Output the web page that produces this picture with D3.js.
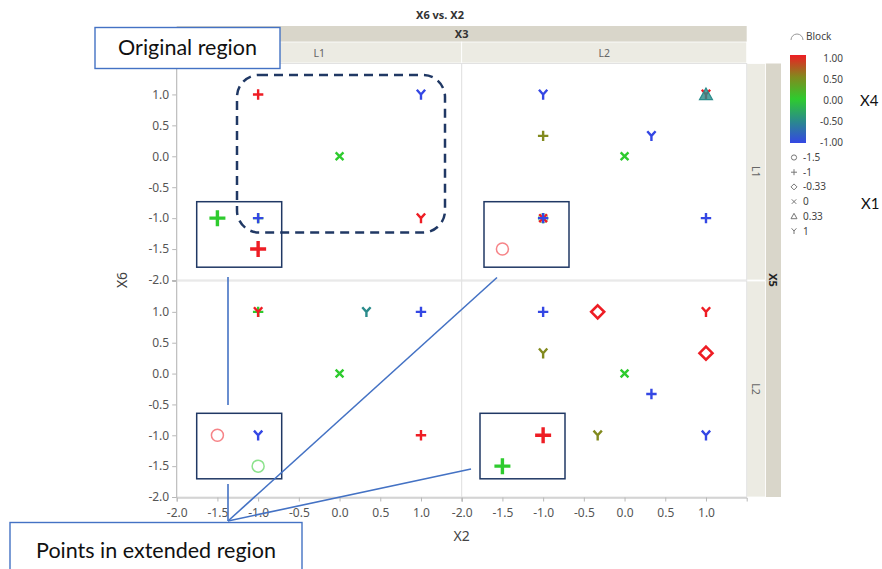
<!DOCTYPE html>
<html><head><meta charset="utf-8">
<script src="https://cdn.jsdelivr.net/npm/d3@7"></script>
<style>
  body { margin: 0; background: #fff; }
  svg { display: block; }
</style>
</head><body>
<svg id="chart" width="882" height="569"></svg>
<script>
// ---- design runs (one entry per run) ----
const x3 = ["L1","L1","L1","L1","L1","L1","L1","L1",
            "L2","L2","L2","L2","L2","L2","L2","L2","L2","L2","L2",
            "L1","L1","L1","L1","L1","L1","L1","L1","L1",
            "L2","L2","L2","L2","L2","L2","L2","L2","L2","L2","L2"];
const x5 = ["L1","L1","L1","L1","L1","L1","L1","L1",
            "L1","L1","L1","L1","L1","L1","L1","L1","L1","L1","L1",
            "L2","L2","L2","L2","L2","L2","L2","L2","L2",
            "L2","L2","L2","L2","L2","L2","L2","L2","L2","L2","L2"];
const x2 = [-1, 1, 0, 1, -1, -1, -1.5, -1,
            -1, 1, 1, -1, 0.33, 0, 1, -1, -1, -1, -1.5,
            -1, -1, 0.33, 1, 0, 1, -1.5, -1, -1,
            -1, -0.33, 1, -1, 1, 0, 0.33, -1, -0.33, 1, -1.5];
const x6 = [1, 1, 0, -1, -1, -1, -1, -1.5,
            1, 1, 1, 0.33, 0.33, 0, -1, -1, -1, -1, -1.5,
            1, 1, 1, 1, 0, -1, -1, -1, -1.5,
            1, 1, 1, 0.33, 0.33, 0, -0.33, -1, -1, -1, -1.5];
const x4 = [1, -1, 0, 1, 0, -1, 0, 1,
            -1, 1, -0.5, 0.5, -1, 0, -1, 0, 1, -1, 1,
            0, 1, -0.5, -1, 0, 1, 1, -1, 0,
            -1, 1, 1, 0.5, 1, 0, -1, 1, 0.5, -1, 0];
const x1 = [-1, 1, 0, 1, -1, -1, -1, -1,
            1, 1, 0.33, -1, 1, 0, -1, -1.5, 0, -1, -1.5,
            -1, 1, 1, -1, 0, -1, -1.5, 1, -1.5,
            -1, -0.33, 1, 1, -0.33, 0, -1, -1, 1, 1, -1];
const extended = [0,0,0,0,0,0,1,1,
                  0,0,0,0,0,0,0,0,0,0,1,
                  0,0,0,0,0,0,1,0,1,
                  0,0,0,0,0,0,0,1,0,0,1];

// ---- facets, ticks, legend ----
const levels = ["L1", "L2"];
const tickValues = [-2, -1.5, -1, -0.5, 0, 0.5, 1];
const axisDomain = [-2, 1.5];
const colourStops = [-1, -0.5, 0, 0.5, 1];
const colourRange = ["#3447e4", "#2a8b8b", "#2ecb2e", "#828a1e", "#ee1d24"];
const shapeLevels = [-1.5, -1, -0.33, 0, 0.33, 1];
const shapeNames = ["circle", "plus", "diamond", "x", "triangle", "y"];
const shapeLabels = ["-1.5", "-1", "-0.33", "0", "0.33", "1"];
const legendTicks = [1, 0.5, 0, -0.5, -1];

const runs = x2.map((d, i) => ({
  x2: d, x6: x6[i], x3: x3[i], x5: x5[i], x4: x4[i], x1: x1[i], ext: extended[i]
}));

const svg = d3.select("#chart");
const font = "'Noto Sans', 'Open Sans', sans-serif";
const noteFont = "Lato, 'Open Sans', sans-serif";

// panel geometry
const colRange = { L1: [176.7, 461.7], L2: [461.7, 746.7] };
const rowRange = { L1: [280, 63.5], L2: [497, 281] };
const xScale = {}, yScale = {};
levels.forEach(l => {
  xScale[l] = d3.scaleLinear().domain(axisDomain).range(colRange[l]);
  yScale[l] = d3.scaleLinear().domain(axisDomain).range(rowRange[l]);
});
const colour = d3.scaleLinear().domain(colourStops).range(colourRange);
const shapeOf = d3.scaleOrdinal().domain(shapeLevels).range(shapeNames);

// ---- title and facet strips ----
svg.append("text").attr("x", 440).attr("y", 19).attr("text-anchor", "middle")
  .attr("font-family", font).attr("font-size", 11).attr("font-weight", "bold")
  .attr("fill", "#333").text("X6 vs. X2");

svg.append("rect").attr("x", 176.7).attr("y", 26).attr("width", 570).attr("height", 16)
  .attr("fill", "#d9d6ca");
svg.append("text").attr("x", 461.7).attr("y", 38).attr("text-anchor", "middle")
  .attr("font-family", font).attr("font-size", 11).attr("font-weight", "bold")
  .attr("fill", "#333").text("X3");
levels.forEach(l => {
  const [a, b] = colRange[l];
  svg.append("rect").attr("x", a).attr("y", 42).attr("width", b - a).attr("height", 21)
    .attr("fill", "#ecebe3").attr("stroke", "#fff").attr("stroke-width", 0.8);
  svg.append("text").attr("x", (a + b) / 2).attr("y", 57).attr("text-anchor", "middle")
    .attr("font-family", font).attr("font-size", 10.5).attr("fill", "#666").text(l);
});

svg.append("rect").attr("x", 765.5).attr("y", 63.5).attr("width", 15.5).attr("height", 433.5)
  .attr("fill", "#d9d6ca");
svg.append("text")
  .attr("transform", "translate(769,280) rotate(90)").attr("text-anchor", "middle")
  .attr("font-family", font).attr("font-size", 11).attr("font-weight", "bold")
  .attr("fill", "#222").text("X5");
levels.forEach(l => {
  const [b, a] = rowRange[l];
  svg.append("rect").attr("x", 746.7).attr("y", a).attr("width", 18.8).attr("height", b - a)
    .attr("fill", "#ecebe3").attr("stroke", "#fff").attr("stroke-width", 0.8);
  svg.append("text")
    .attr("transform", `translate(752,${(a + b) / 2}) rotate(90)`).attr("text-anchor", "middle")
    .attr("font-family", font).attr("font-size", 10.5).attr("fill", "#666").text(l);
});

// ---- panels ----
levels.forEach(c => levels.forEach(r => {
  const [x0, x1p] = colRange[c], [y1, y0] = rowRange[r];
  svg.append("rect").attr("x", x0).attr("y", y0).attr("width", x1p - x0).attr("height", y1 - y0)
    .attr("fill", "#fff").attr("stroke", "#e2e2e2").attr("stroke-width", 1);
}));

// axes
const fmt = d => d.toFixed(1);
function styleAxis(g) {
  g.select(".domain").attr("stroke", "#b8b8b8");
  g.selectAll(".tick line").attr("stroke", "#b8b8b8");
  g.selectAll("text").attr("font-family", font).attr("font-size", 12).attr("fill", "#555");
}
levels.forEach(c => {
  const g = svg.append("g").attr("transform", "translate(0,497.5)")
    .call(d3.axisBottom(xScale[c]).tickValues(tickValues).tickFormat(fmt).tickSizeOuter(0).tickSize(4));
  styleAxis(g);
  g.selectAll("text").attr("dy", "1.05em");
});
levels.forEach(r => {
  const g = svg.append("g").attr("transform", "translate(176.2,0)")
    .call(d3.axisLeft(yScale[r]).tickValues(tickValues).tickFormat(fmt).tickSizeOuter(0).tickSize(4));
  styleAxis(g);
});

svg.append("text").attr("x", 461.7).attr("y", 541).attr("text-anchor", "middle")
  .attr("font-family", font).attr("font-size", 14).attr("fill", "#444").text("X2");
svg.append("text").attr("transform", "translate(127,280) rotate(-90)").attr("text-anchor", "middle")
  .attr("font-family", font).attr("font-size", 14).attr("fill", "#444").text("X6");

// ---- markers ----
function markerPath(shape, s) {
  switch (shape) {
    case "plus": return `M${-s},0H${s}M0,${-s}V${s}`;
    case "x": { const k = s * 0.75; return `M${-k},${-k}L${k},${k}M${-k},${k}L${k},${-k}`; }
    case "diamond": return `M0,${-s}L${s},0L0,${s}L${-s},0Z`;
    case "triangle": return `M0,${-s}L${s},${s * 0.8}L${-s},${s * 0.8}Z`;
    case "y": return `M0,0L${-s * 0.8},${-s * 0.9}M0,0L${s * 0.8},${-s * 0.9}M0,0V${s}`;
    default: return d3.arc()({ innerRadius: 0, outerRadius: s, startAngle: 0, endAngle: 2 * Math.PI });
  }
}

const markers = svg.append("g");
runs.forEach(d => {
  const shape = shapeOf(d.x1);
  const cx = xScale[d.x3](d.x2), cy = yScale[d.x5](d.x6);
  const col = colour(d.x4);
  const g = markers.append("g").attr("transform", `translate(${cx},${cy})`);
  if (shape === "circle") {
    g.append("circle").attr("r", d.ext ? 6 : 4.5).attr("fill", "none")
      .attr("stroke", col).attr("stroke-width", 1.5).attr("stroke-opacity", 0.55);
  } else if (shape === "triangle") {
    g.append("path").attr("d", markerPath(shape, 6.5)).attr("fill", col).attr("fill-opacity", 0.8)
      .attr("stroke", col).attr("stroke-width", 1.2);
  } else if (shape === "diamond") {
    g.append("path").attr("d", markerPath(shape, 6.5)).attr("fill", "none")
      .attr("stroke", col).attr("stroke-width", 2.6);
  } else {
    const s = d.ext ? 8 : 5.2;
    g.append("path").attr("d", markerPath(shape, s)).attr("fill", "none")
      .attr("stroke", col).attr("stroke-width", d.ext ? 3.4 : 2.4);
  }
});

// ---- legend: X4 colour ----
const defs = svg.append("defs");
const grad = defs.append("linearGradient").attr("id", "x4grad")
  .attr("x1", 0).attr("y1", 1).attr("x2", 0).attr("y2", 0);
colourStops.forEach((v, i) => grad.append("stop")
  .attr("offset", (v + 1) / 2).attr("stop-color", colourRange[i]));
const legY = d3.scaleLinear().domain([-1, 1]).range([142, 58]);
svg.append("path").attr("d", "M791,40 A6,6 0 0 1 803,40").attr("fill", "none")
  .attr("stroke", "#999").attr("stroke-width", 1);
svg.append("text").attr("x", 806).attr("y", 40).attr("font-family", font).attr("font-size", 10)
  .attr("fill", "#444").text("Block");
svg.append("rect").attr("x", 790).attr("y", 55).attr("width", 16).attr("height", 88)
  .attr("fill", "url(#x4grad)");
legendTicks.forEach(v => {
  svg.append("text").attr("x", 843).attr("y", legY(v) + 3.5).attr("text-anchor", "end")
    .attr("font-family", font).attr("font-size", 10).attr("fill", "#444").text(v.toFixed(2));
});
svg.append("text").attr("x", 860).attr("y", 106).attr("font-family", noteFont)
  .attr("font-size", 15).attr("fill", "#111").text("X4");

// ---- legend: X1 shape ----
shapeLevels.forEach((v, i) => {
  const y = 157.5 + i * 14.7;
  const shape = shapeNames[i];
  svg.append("path").attr("transform", `translate(794,${y})`)
    .attr("d", markerPath(shape, shape === "circle" ? 2.6 : 3))
    .attr("fill", "none").attr("stroke", "#777").attr("stroke-width", 1);
  svg.append("text").attr("x", 803).attr("y", y + 3.5).attr("font-family", font)
    .attr("font-size", 10).attr("fill", "#444").text(shapeLabels[i]);
});
svg.append("text").attr("x", 861).attr("y", 209).attr("font-family", noteFont)
  .attr("font-size", 15).attr("fill", "#111").text("X1");

// ---- annotations ----
const navy = "#203864", callout = "#4472c4";
svg.append("rect").attr("x", 237).attr("y", 75).attr("width", 208).attr("height", 157.5)
  .attr("rx", 22).attr("fill", "none").attr("stroke", navy).attr("stroke-width", 2.5)
  .attr("stroke-dasharray", "9,6");

[[196.7, 201.7], [484, 201.7], [196.7, 413.3], [480, 413.3]].forEach(([x, y]) => {
  svg.append("rect").attr("x", x).attr("y", y).attr("width", 85).attr("height", 65.5)
    .attr("fill", "none").attr("stroke", navy).attr("stroke-width", 1.5);
});

const hub = [228, 521];
[[228, 277, 228, 405], [228, 484, 228, 521], [hub[0], hub[1], 497, 277.5], [hub[0], hub[1], 471, 469]]
  .forEach(([a, b, c, e]) => svg.append("line").attr("x1", a).attr("y1", b).attr("x2", c).attr("y2", e)
    .attr("stroke", callout).attr("stroke-width", 1.6));

svg.append("rect").attr("x", 95).attr("y", 27.5).attr("width", 185).attr("height", 41)
  .attr("fill", "#fff").attr("stroke", callout).attr("stroke-width", 1.4);
svg.append("text").attr("x", 187.5).attr("y", 55).attr("text-anchor", "middle")
  .attr("font-family", noteFont).attr("font-size", 21.5).attr("fill", "#111").text("Original region");

svg.append("rect").attr("x", 10).attr("y", 522.5).attr("width", 292).attr("height", 60)
  .attr("fill", "#fff").attr("stroke", callout).attr("stroke-width", 1.4);
svg.append("text").attr("x", 156).attr("y", 558).attr("text-anchor", "middle")
  .attr("font-family", noteFont).attr("font-size", 21.5).attr("fill", "#111").text("Points in extended region");
</script>
</body></html>
